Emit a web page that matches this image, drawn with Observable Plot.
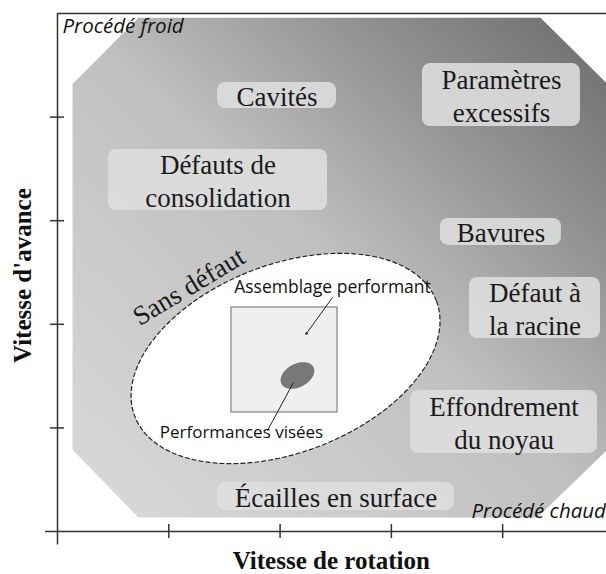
<!DOCTYPE html>
<html><head><meta charset="utf-8">
<script src="https://cdn.jsdelivr.net/npm/d3@7"></script>
<script src="https://cdn.jsdelivr.net/npm/@observablehq/plot@0.6"></script>
<style>body{margin:0;background:#fff;}</style>
</head><body><div id="chart"></div>
<script>
// Axis ticks (no labels in the original)
const xTicks = [1, 2, 3, 4];
const yTicks = [1, 2, 3, 4];

// Process window (octagon) in axis units
const octagonX = [0.135, 0.728, 4.34, 4.97, 4.97, 4.313, 0.728, 0.135];
const octagonY = [4.32, 4.96, 4.96, 4.29, 0.82, 0.135, 0.135, 0.79];

// Defect zones (label boxes)
const labelText = ["Cavités", "Paramètres\nexcessifs", "Défauts de\nconsolidation", "Bavures", "Défaut à\nla racine", "Effondrement\ndu noyau", "Écailles en surface"];
const labelX1 = [1.438, 3.279, 0.458, 3.441, 3.702, 3.172, 1.438];
const labelX2 = [2.507, 4.699, 2.426, 4.528, 4.879, 4.852, 3.567];
const labelY1 = [4.083, 3.909, 3.098, 2.761, 1.863, 0.753, 0.203];
const labelY2 = [4.334, 4.517, 3.687, 3.021, 2.452, 1.361, 0.473];

// "Sans défaut" zone: ellipse centre, semi-axes (x units), tilt (deg)
const okCenter = [2.049, 1.670];
const okRadii = [1.451, 0.845];
const okTilt = 21;

// "Assemblage performant" square
const squareX = [1.563, 2.516];
const squareY = [1.149, 2.162];

// "Performances visées" small ellipse
const targetCenter = [2.156, 1.506];
const targetRadii = [0.162, 0.105];
const targetTilt = 28;

// Leader lines
const leaderX1 = [2.471, 2.120];
const leaderY1 = [2.259, 1.438];
const leaderX2 = [2.237, 1.887];
const leaderY2 = [1.911, 0.975];

const W = 606, H = 574;
const mL = 57, mR = 0, mT = 13, mB = 43;
const xMax = 4.933;
const kx = (W - mL - mR) / xMax;
const ky = (H - mT - mB) / 5;

function ellipsePts(c, r, tiltDeg, n = 120) {
  const th = tiltDeg * Math.PI / 180;
  const pts = [];
  for (let i = 0; i <= n; i++) {
    const t = 2 * Math.PI * i / n;
    const dx = r[0] * kx * Math.cos(t) * Math.cos(th) - r[1] * kx * Math.sin(t) * Math.sin(th);
    const dy = r[0] * kx * Math.cos(t) * Math.sin(th) + r[1] * kx * Math.sin(t) * Math.cos(th);
    pts.push({x: c[0] + dx / kx, y: c[1] + dy / ky});
  }
  return pts;
}

const octagon = octagonX.map((x, i) => ({x, y: octagonY[i]}));
octagon.push(octagon[0]);
const labels = labelText.map((t, i) => ({t, x1: labelX1[i], x2: labelX2[i], y1: labelY1[i], y2: labelY2[i]}));
const leaders = leaderX1.map((x, i) => ({x1: x, y1: leaderY1[i], x2: leaderX2[i], y2: leaderY2[i]}));

const gradientDef = () => {
  const ns = "http://www.w3.org/2000/svg";
  const defs = document.createElementNS(ns, "defs");
  const lg = document.createElementNS(ns, "linearGradient");
  lg.setAttribute("id", "procGrad");
  lg.setAttribute("x1", "0"); lg.setAttribute("y1", "1");
  lg.setAttribute("x2", "1"); lg.setAttribute("y2", "0");
  [[0, "#dadada"], [0.5, "#c0c0c0"], [0.75, "#939393"], [1, "#6a6a6a"]].forEach(([o, c]) => {
    const s = document.createElementNS(ns, "stop");
    s.setAttribute("offset", o); s.setAttribute("stop-color", c);
    lg.appendChild(s);
  });
  defs.appendChild(lg);
  return defs;
};

const serif = "'Liberation Serif', 'DejaVu Serif', serif";
const sans = "'Open Sans', 'Noto Sans', sans-serif";
const axisColor = "#333";

const chart = Plot.plot({
  width: W, height: H,
  marginLeft: mL, marginRight: mR, marginTop: mT, marginBottom: mB,
  x: {domain: [0, xMax], axis: null},
  y: {domain: [0, 5], axis: null},
  style: {background: "#fff"},
  marks: [
    gradientDef,
    Plot.line(octagon, {x: "x", y: "y", fill: "url(#procGrad)", stroke: "none", curve: "linear-closed"}),
    Plot.rect(labels, {x1: "x1", x2: "x2", y1: "y1", y2: "y2", fill: "#dedede", fillOpacity: 0.88, rx: 8}),
    Plot.text(labels, {x: d => (d.x1 + d.x2) / 2, y: d => (d.y1 + d.y2) / 2, text: "t", fontSize: 27, fontFamily: serif, lineHeight: 1.2, fill: "#1a1a1a"}),
    Plot.line(ellipsePts(okCenter, okRadii, okTilt), {x: "x", y: "y", fill: "white", stroke: "#222", strokeWidth: 1.2, strokeDasharray: "4,3"}),
    Plot.rect([0], {x1: squareX[0], x2: squareX[1], y1: squareY[0], y2: squareY[1], fill: "#efefef", stroke: "#808080", strokeWidth: 1.2}),
    Plot.line(ellipsePts(targetCenter, targetRadii, targetTilt), {x: "x", y: "y", fill: "#787878", stroke: "none"}),
    Plot.link(leaders, {x1: "x1", y1: "y1", x2: "x2", y2: "y2", stroke: "#222", strokeWidth: 1}),
    Plot.dot([0], {x: leaderX2[0], y: leaderY2[0], r: 1.3, fill: "#222"}),
    Plot.text(["Assemblage performant"], {x: 2.471, y: 2.36, text: d => d, fontSize: 17.5, fontFamily: sans, fill: "#111"}),
    Plot.text(["Performances visées"], {x: 1.653, y: 0.956, text: d => d, fontSize: 17, fontFamily: sans, fill: "#111"}),
    Plot.text(["Sans défaut"], {x: 1.181, y: 2.364, text: d => d, fontSize: 27, fontFamily: serif, rotate: -31, fill: "#1a1a1a"}),
    Plot.text(["Procédé froid"], {x: 0.045, y: 4.875, text: d => d, fontSize: 20.5, fontFamily: sans, fontStyle: "italic", textAnchor: "start", fill: "#111"}),
    Plot.text(["Procédé chaud"], {x: 3.72, y: 0.193, text: d => d, fontSize: 20.5, fontFamily: sans, fontStyle: "italic", textAnchor: "start", fill: "#111"}),
    // Axes
    Plot.ruleY([0], {x1: -0.108, x2: xMax, stroke: axisColor, strokeWidth: 1.5}),
    Plot.ruleY([5], {x1: 0, x2: xMax, stroke: axisColor, strokeWidth: 1.5}),
    Plot.ruleX([0], {y1: -0.13, y2: 5, stroke: axisColor, strokeWidth: 1.5}),
    Plot.ruleX(xTicks, {y1: -0.068, y2: 0.068, stroke: axisColor, strokeWidth: 1.5}),
    Plot.ruleY(yTicks, {x1: -0.063, x2: 0.063, stroke: axisColor, strokeWidth: 1.5}),
    Plot.text(["Vitesse de rotation"], {x: 2.46, y: -0.28, text: d => d, fontSize: 25, fontWeight: "bold", fontFamily: serif, fill: "#111"}),
    Plot.text(["Vitesse d'avance"], {x: -0.31, y: 2.47, text: d => d, fontSize: 25, fontWeight: "bold", fontFamily: serif, rotate: -90, fill: "#111"})
  ]
});
document.getElementById("chart").appendChild(chart);
</script>
</body></html>
